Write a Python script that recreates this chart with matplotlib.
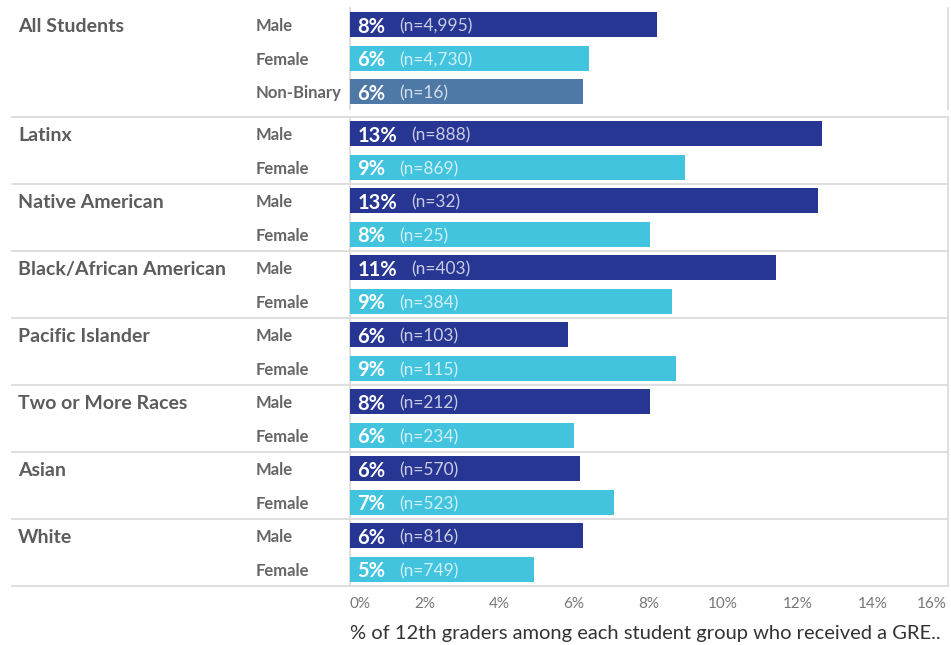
import matplotlib.pyplot as plt

plt.rcParams['font.family'] = ['Lato', 'DejaVu Sans']

# share of 12th graders with a GRE, by student group and gender
groups = ["All Students", "Latinx", "Native American", "Black/African American",
          "Pacific Islander", "Two or More Races", "Asian", "White"]
genders = [["Male", "Female", "Non-Binary"]] + [["Male", "Female"]] * 7
pct = [[8.23, 6.41, 6.25],
       [12.65, 8.98],
       [12.55, 8.04],
       [11.42, 8.63],
       [5.84, 8.74],
       [8.04, 6.00],
       [6.17, 7.08],
       [6.25, 4.93]]
counts = [[4995, 4730, 16],
          [888, 869],
          [32, 25],
          [403, 384],
          [103, 115],
          [212, 234],
          [570, 523],
          [816, 749]]
ticks = list(range(0, 17, 2))

bar_colors = {"Male": "#283693", "Female": "#42C4DE", "Non-Binary": "#4E79A7"}
GRID = "#dcdcdc"
PANE_GAP = 0.25   # blank space between the "All Students" pane and the rest

W, H = 951, 645
fig = plt.figure(figsize=(W / 100, H / 100), dpi=100)
ax = fig.add_axes([350 / W, 1 - 586 / H, (948 - 350) / W, (586 - 8) / H])

n_rows = sum(len(g) for g in genders)
y_max = n_rows + PANE_GAP
ax.set_xlim(0, 16 * 598 / 597)
ax.set_ylim(y_max, 0)

# x position (axes coords) of the label columns
x_group = (18 - 350) / 598
x_sub = (256 - 350) / 598
x_line = (12 - 350) / 598
yx = ax.get_yaxis_transform()

row = 0
for gi, (g, subs, vals, ns) in enumerate(zip(groups, genders, pct, counts)):
    ax.text(x_group, row + 0.5, g, transform=yx, ha='left', va='center_baseline',
            fontsize=14, fontweight='bold', color='#5c5c5c')
    for sub, v, n in zip(subs, vals, ns):
        y = row + 0.5
        ax.barh(y, v, height=0.74, color=bar_colors[sub], zorder=2)
        ax.text(x_sub, y, sub, transform=yx, ha='left', va='center_baseline',
                fontsize=12, fontweight='bold', color='#666666')
        t = ax.text(0.2, y, f"{v:.0f}%", ha='left', va='center_baseline',
                    fontsize=14.5, fontweight='bold', color='white', zorder=3)
        ax.annotate(f"(n={n:,})", xy=(1, 0.5), xycoords=t, xytext=(10, 0),
                    textcoords='offset points', ha='left', va='center',
                    fontsize=12.5, color='white', alpha=0.75, zorder=3)
        row += 1
    if gi == 0:
        # frame of the first pane, then skip to the second pane
        ax.plot([0, 0], [0, row], color=GRID, lw=1.3, clip_on=False, zorder=1)
        ax.plot([1, 1], [0, row], transform=yx, color=GRID, lw=1.3, clip_on=False, zorder=1)
        row += PANE_GAP
        top2 = row
    # separator above the next group, reaching across the label columns
    ax.plot([x_line, 1], [row, row], transform=yx,
            color=GRID, lw=1.3, clip_on=False, zorder=1)

ax.plot([0, 0], [top2, y_max], color=GRID, lw=1.3, clip_on=False, zorder=1)
ax.plot([1, 1], [top2, y_max], transform=yx, color=GRID, lw=1.3, clip_on=False, zorder=1)

for side in ax.spines:
    ax.spines[side].set_visible(False)

ax.set_yticks([])
ax.set_xticks(ticks)
ax.set_xticklabels([f"{t}%" for t in ticks])
ax.tick_params(axis='x', length=0, pad=8, labelsize=11, labelcolor='#777777')
labels = ax.get_xticklabels()
labels[0].set_ha('left')
labels[-1].set_ha('right')

fig.text(350 / W, 1 - 633 / H,
         "% of 12th graders among each student group who received a GRE..",
         ha='left', va='center', fontsize=14.5, color='#333333')

fig.savefig("out.png", dpi=100)
